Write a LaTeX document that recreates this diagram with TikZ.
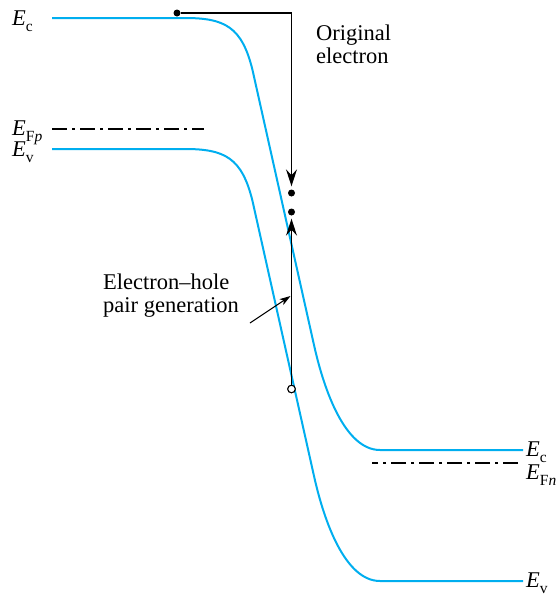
\documentclass[tikz,border=0pt]{standalone}
\usepackage{fontspec}
\setmainfont{Liberation Serif}
\usetikzlibrary{arrows.meta}
\definecolor{bandblue}{RGB}{0,174,239}
\newcommand\Elev[1]{\textit{E}\raisebox{-0.28em}{\fontsize{15.5}{15.5}\selectfont #1}}
\begin{document}
\begin{tikzpicture}[x=1pt,y=-1pt,
  band/.style={draw=bandblue, line width=2pt},
  fermi/.style={line width=1.6pt, dash pattern=on 15pt off 5pt on 3pt off 5pt},
  wire/.style={line width=1.3pt},
  lab/.style={inner sep=0pt, font=\fontsize{22.5}{23}\selectfont},
  dot/.style={circle, fill=black, inner sep=0pt, minimum size=7pt},
  hole/.style={circle, draw=black, fill=white, line width=1pt, inner sep=0pt, minimum size=7.5pt},
  bigtip/.style={-{Stealth[length=17pt,width=11pt,inset=6pt]}},
]
\path[use as bounding box] (0,0) rectangle (559,595);

% energy bands
\def\bandpath{(52,18) -- (185,18) .. controls (225,18) and (242,27) .. (252.5,70)
  -- (314,345) .. controls (324,390) and (345,450) .. (380,450) -- (523,450)}
\draw[band] \bandpath;
\begin{scope}[shift={(0,131)}]
\draw[band] \bandpath;
\end{scope}

% quasi Fermi levels
\draw[fermi] (52,129) -- (204,129);
\draw[fermi] (518,463) -- (372,463);

% level labels
\node[lab, anchor=base west] (ecl) at (12,25) {\Elev{c}};
\node[lab, anchor=base west] (efp) at (12,135) {\Elev{F\textit{p}}};
\node[lab, anchor=base west] (evl) at (12,156) {\Elev{v}};
\node[lab, anchor=base west] (ecr) at (526,456) {\Elev{c}};
\node[lab, anchor=base west] (efn) at (526,479) {\Elev{F\textit{n}}};
\node[lab, anchor=base west] (evr) at (526,587) {\Elev{v}};

% texts (base = baseline of the last line)
\node[lab, anchor=base west, align=left] (orig) at (316,63) {Original\\electron};
\node[lab, anchor=base west, align=left] (pair) at (103,312) {Electron--hole\\pair generation};

% electron path
\node[dot] (e0) at (177,13) {};
\coordinate (corner) at (291.5,13);
\node[dot] (d1) at (291.5,193) {};
\node[dot] (d2) at (291.5,212) {};
\node[hole] (h) at (291.5,389) {};
\draw[wire, bigtip, shorten >=3pt] (e0) -- (corner) -- (d1);
\draw[wire, bigtip, shorten >=3pt] (h) -- (d2);
\node[hole] at (h) {};

% label arrow
\coordinate (ltail) at (250,323);
\coordinate (ltip) at (290.5,296);
\draw[line width=1pt, -{Stealth[length=11pt,width=7pt,inset=3pt]}] (ltail) -- (ltip);
\end{tikzpicture}
\end{document}
